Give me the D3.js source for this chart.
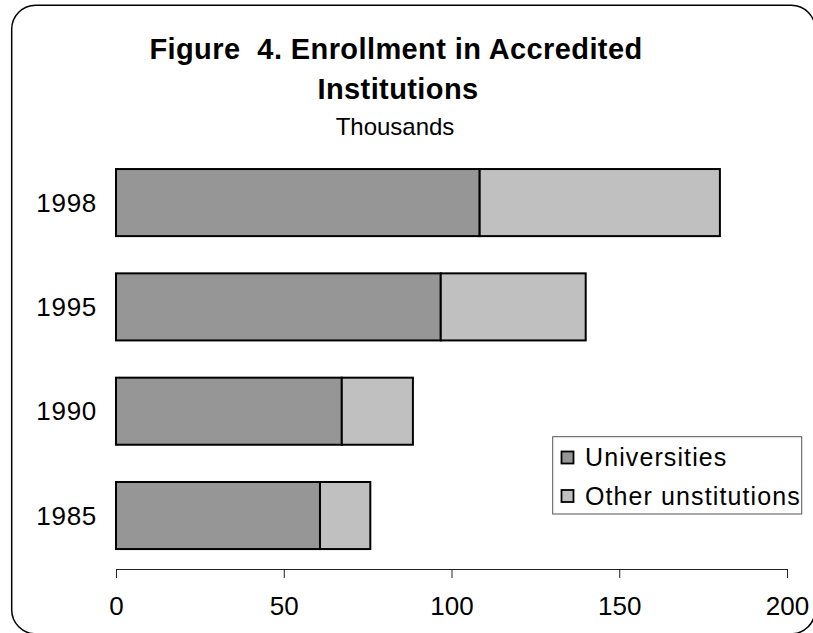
<!DOCTYPE html>
<html>
<head>
<meta charset="utf-8">
<script src="https://cdn.jsdelivr.net/npm/d3@7"></script>
<style>
  body { margin: 0; background: #fff; }
  svg { display: block; font-family: "Liberation Sans", Arial, sans-serif; }
</style>
</head>
<body>
<svg class="chart" width="813" height="633"></svg>
<script>
// enrollment, thousands
const years = ["1998", "1995", "1990", "1985"];
const universities = [108.4, 96.8, 67.3, 60.8];
const otherInst = [71.6, 43.2, 21.2, 15.0];
const seriesNames = ["Universities", "Other unstitutions"];
const xTicks = [0, 50, 100, 150, 200];

const colors = ["#969696", "#c0c0c0"];

var svg = d3.select("svg.chart");

// rounded outer frame (right and bottom edges run off the picture)
svg.append("rect")
  .attr("x", 11.7).attr("y", 5.3)
  .attr("width", 803.5).attr("height", 628.5)
  .attr("rx", 24).attr("ry", 24)
  .attr("fill", "none")
  .attr("stroke", "#000")
  .attr("stroke-width", 1.5);

// titles
svg.append("text")
  .attr("x", 396).attr("y", 59)
  .attr("text-anchor", "middle")
  .style("font-size", "29px").style("font-weight", "bold")
  .style("letter-spacing", "0.4px")
  .style("white-space", "pre")
  .text("Figure  4. Enrollment in Accredited");
svg.append("text")
  .attr("x", 398).attr("y", 99)
  .attr("text-anchor", "middle")
  .style("font-size", "29px").style("font-weight", "bold")
  .style("letter-spacing", "0.4px")
  .text("Institutions");
svg.append("text")
  .attr("x", 395).attr("y", 135)
  .attr("text-anchor", "middle")
  .style("font-size", "24px")
  .text("Thousands");

var x = d3.scaleLinear().domain([0, 200]).range([116, 787]);
var y = d3.scaleBand().domain(years).range([131.8, 586.3])
  .paddingInner(0.357).paddingOuter(0.357);

var rows = years.map((yr, i) => ({ year: yr, vals: [universities[i], otherInst[i]] }));
var stackData = rows.map(r => {
  let acc = 0;
  return r.vals.map((v, k) => {
    let seg = { year: r.year, k: k, x0: acc, x1: acc + v };
    acc += v;
    return seg;
  });
}).flat();

svg.append("g").selectAll("rect")
  .data(stackData)
  .join("rect")
  .attr("x", d => x(d.x0))
  .attr("y", d => y(d.year))
  .attr("width", d => x(d.x1) - x(d.x0))
  .attr("height", y.bandwidth())
  .attr("fill", d => colors[d.k])
  .attr("stroke", "#000")
  .attr("stroke-width", 2);

// year labels
svg.append("g").selectAll("text")
  .data(years)
  .join("text")
  .attr("x", 97)
  .attr("y", d => y(d) + y.bandwidth() / 2)
  .attr("dy", "0.35em")
  .attr("text-anchor", "end")
  .style("font-size", "26px")
  .style("letter-spacing", "0.7px")
  .text(d => d);

// x axis
var xAxis = svg.append("g")
  .attr("transform", "translate(0,569)")
  .call(d3.axisBottom(x).tickValues(xTicks).tickSize(9).tickSizeOuter(0).tickPadding(19));
xAxis.select(".domain").attr("stroke", "#222");
xAxis.selectAll(".tick line").attr("stroke", "#222");
xAxis.selectAll("text")
  .style("font-size", "26px")
  .style("font-family", "'Liberation Sans', Arial, sans-serif")
  .attr("fill", "#000");

// legend
var lg = svg.append("g");
lg.append("rect")
  .attr("x", 552.7).attr("y", 436.7)
  .attr("width", 249).attr("height", 77.3)
  .attr("fill", "#fff")
  .attr("stroke", "#555")
  .attr("stroke-width", 1);
seriesNames.forEach((name, i) => {
  lg.append("rect")
    .attr("x", 561.5).attr("y", 451.5 + i * 38.5)
    .attr("width", 12).attr("height", 12)
    .attr("fill", colors[i])
    .attr("stroke", "#000")
    .attr("stroke-width", 1.8);
  lg.append("text")
    .attr("x", 585).attr("y", 466 + i * 39)
    .style("font-size", "25px")
    .style("letter-spacing", "1.1px")
    .text(name);
});
</script>
</body>
</html>
